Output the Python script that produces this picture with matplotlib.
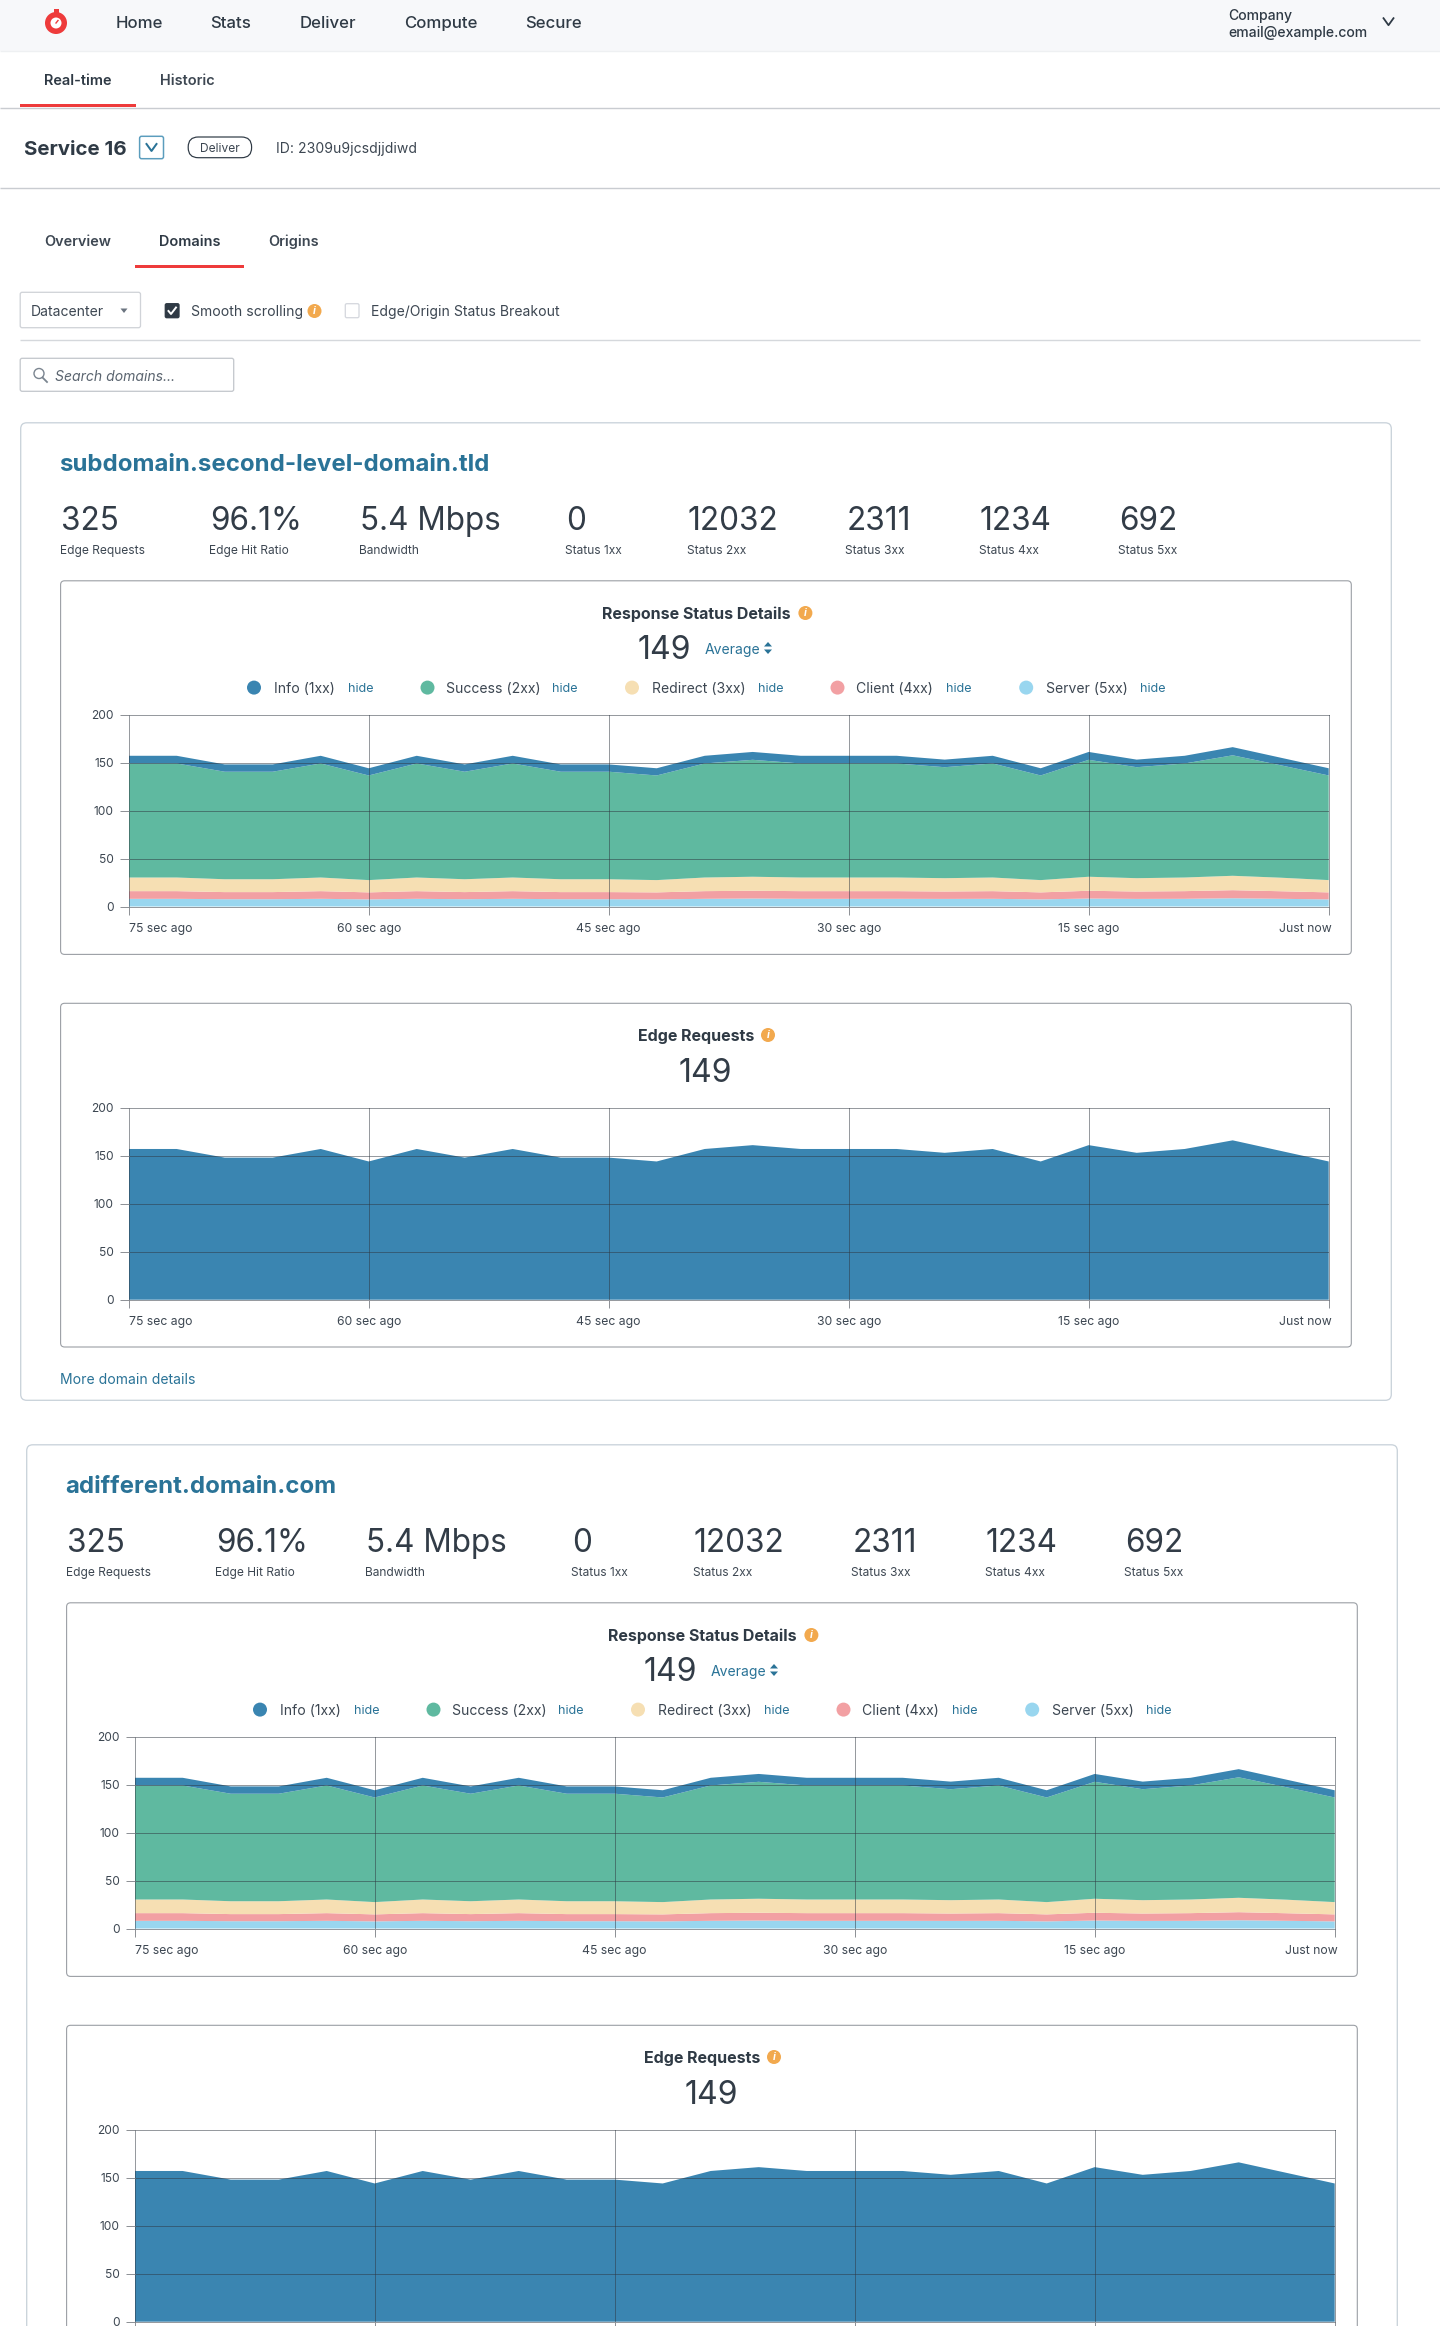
import matplotlib
matplotlib.use("Agg")
import matplotlib.pyplot as plt
from matplotlib.patches import Rectangle, Circle, FancyBboxPatch, Polygon
from matplotlib.transforms import ScaledTranslation

plt.rcParams['font.family'] = ['Inter', 'DejaVu Sans']

seconds = list(range(-75, 1, 3))
server = [8.0,8.0,7.6,7.6,8.0,7.4,8.0,7.6,8.0,7.6,7.6,7.4,8.0,8.3,8.0,8.0,8.0,7.9,8.0,7.4,8.3,7.9,8.0,8.6,8.0,7.4]
client = [8.0,8.0,7.4,7.4,8.0,7.3,8.0,7.4,8.0,7.4,7.4,7.3,8.0,8.1,8.0,8.0,8.0,7.7,8.0,7.3,8.1,7.7,8.0,8.4,7.9,7.3]
redirect = [14.2,14.2,13.4,13.4,14.2,12.8,14.2,13.4,14.2,13.4,13.4,12.8,14.2,14.6,14.2,14.2,14.2,13.9,14.2,12.8,14.6,13.9,14.2,15.0,14.1,12.8]
success = [118.8,118.8,112.0,112.0,118.8,109.0,118.8,112.0,118.8,112.0,112.0,109.0,118.8,121.8,118.8,118.8,118.8,115.6,118.8,109.0,121.8,115.6,118.8,125.5,117.1,109.0]
info = [8.0,8.0,7.6,7.6,8.0,7.5,8.0,7.6,8.0,7.6,7.6,7.5,8.0,8.2,8.0,8.0,8.0,7.9,8.0,7.5,8.2,7.9,8.0,8.5,7.9,7.5]
edge = [157,157,148,148,157,144,157,148,157,148,148,144,157,161,157,157,157,153,157,144,161,153,157,166,155,144]

xtick_vals = [-75, -60, -45, -30, -15, 0]
xtick_labels = ['75 sec ago', '60 sec ago', '45 sec ago', '30 sec ago', '15 sec ago', 'Just now']
ytick_vals = [0, 50, 100, 150, 200]

metric_values = ['325', '96.1%', '5.4 Mbps', '0', '12032', '2311', '1234', '692']
metric_labels = ['Edge Requests', 'Edge Hit Ratio', 'Bandwidth', 'Status 1xx',
                 'Status 2xx', 'Status 3xx', 'Status 4xx', 'Status 5xx']
legend_labels = ['Info (1xx)', 'Success (2xx)', 'Redirect (3xx)', 'Client (4xx)', 'Server (5xx)']
domains = ['subdomain.second-level-domain.tld', 'adifferent.domain.com']

BLUE, GREEN, CREAM, PINK, SKY = '#3A85B1', '#5FB9A0', '#F6DFB3', '#F2A0A3', '#99D6EF'
legend_colors = [BLUE, GREEN, CREAM, PINK, SKY]
INK = '#2F3A45'
NUM = '#323C47'
TEXT = '#3D4752'
LINK = '#2A7397'
RED = '#EE3B3B'
ORANGE = '#F2A94E'
W, H = 1440, 2326

fig = plt.figure(figsize=(W / 100, H / 100), dpi=100, facecolor='white')
bg = fig.add_axes([0, 0, 1, 1])
bg.set_xlim(0, W)
bg.set_ylim(H, 0)
bg.axis('off')


def fs(px):
    return px * 0.72


def label(x, y, s, size=14, color=TEXT, weight='normal', ha='left', style='normal'):
    bg.text(x, y, s, fontsize=fs(size), color=color, fontweight=weight, ha=ha,
            va='center_baseline', fontstyle=style)


def hline(y, x0=0, x1=W, color='#C9CCD1', lw=1.4):
    bg.plot([x0, x1], [y, y], color=color, lw=fs(lw), solid_capstyle='butt')


def box(x0, y0, x1, y1, ec, r=4, lw=1.3, fc='white', z=1):
    bg.add_patch(FancyBboxPatch((x0 + r, y0 + r), x1 - x0 - 2 * r, y1 - y0 - 2 * r,
                                boxstyle=f'round,pad={r},rounding_size={r}',
                                fc=fc, ec=ec, lw=fs(lw), zorder=z))


def info_icon(x, y):
    bg.add_patch(Circle((x, y), 7, fc=ORANGE, ec='none', zorder=3))
    bg.text(x, y, 'i', fontsize=fs(10.5), color='white', ha='center', va='center',
            fontstyle='italic', fontweight='bold', zorder=4)


def chevron(x, y, w, h, color, lw=1.8):
    bg.plot([x - w, x, x + w], [y - h, y + h, y - h], color=color, lw=fs(lw))


# Top navigation
bg.add_patch(Rectangle((0, 0), W, 51, fc='#F7F8FA', ec='none'))
hline(51, color='#EEF0F2')
bg.add_patch(Circle((56, 23), 11, fc=RED, ec='none'))
bg.add_patch(Rectangle((53.5, 9), 5, 4, fc=RED, ec='none'))
bg.add_patch(Circle((56, 23), 5.5, fc='white', ec='none'))
bg.plot([56, 58], [23, 20.5], color=RED, lw=1)
for x, s in zip([115.6, 210, 300, 404, 525], ['Home', 'Stats', 'Deliver', 'Compute', 'Secure']):
    label(x, 22.3, s, 16.8, INK, 'medium')
label(1228, 14.3, 'Company', 14, INK, 'medium')
label(1228, 31.3, 'email@example.com', 14, INK, 'medium')
chevron(1388.5, 21.7, 5, 3.5, INK)

# Page tabs
label(44, 79.7, 'Real-time', 14.5, INK, 'semibold')
label(160, 79.7, 'Historic', 14.5, TEXT, 'semibold')
bg.add_patch(Rectangle((20.2, 104), 115.8, 3.2, fc=RED, ec='none', zorder=3))
hline(107.5)
label(24, 147.7, 'Service 16', 20.5, INK, 'bold')
box(139.6, 136.3, 163.5, 158.7, '#5B9DBD', r=2, lw=1.5)
chevron(151.5, 147.5, 5, 3.5, LINK, lw=2)
box(188.2, 137, 251.6, 157.7, INK, r=10, lw=1.2)
label(220, 147.7, 'Deliver', 12, TEXT, ha='center')
label(276, 147.7, 'ID: 2309u9jcsdjjdiwd', 14, TEXT)
hline(187.5)

# Sub tabs
label(44.3, 240.7, 'Overview', 14.5, TEXT, 'semibold')
label(158.9, 240.7, 'Domains', 14.5, INK, 'semibold')
label(268.6, 240.7, 'Origins', 14.5, TEXT, 'semibold')
bg.add_patch(Rectangle((135, 265), 108.8, 3, fc=RED, ec='none'))

# Filters
box(20.2, 292.3, 140.5, 327.7, '#D0D3D8', r=2)
label(30.3, 310.5, 'Datacenter', 14, TEXT)
bg.add_patch(Polygon([(120.5, 308.5), (127.5, 308.5), (124, 313)], fc='#6B7480', ec='none'))
box(165.3, 303.7, 179, 317.7, '#2F3A45', r=1.5, fc='#2F3A45')
bg.plot([168.5, 171, 176], [311, 314, 307.5], color='white', lw=1.4, zorder=5)
label(191, 310.5, 'Smooth scrolling', 14, TEXT)
info_icon(314.5, 311)
box(345.3, 303.7, 359, 317.7, '#D5D8DE', r=1.5)
label(371, 310.5, 'Edge/Origin Status Breakout', 14, TEXT)
hline(340.3, 20, 1419.7, '#D5D8DC')
box(20.2, 358.3, 233.7, 391.3, '#C4C8CD', r=2)
bg.add_patch(Circle((39, 373.5), 5, fc='none', ec='#7B8590', lw=1))
bg.plot([42.5, 47], [377.5, 382], color='#7B8590', lw=1.3)
label(55, 375.5, 'Search domains...', 14, '#5B6570', style='italic')

metric_x = [60, 209.3, 359.4, 564.7, 686.8, 845.3, 978.9, 1118.4]
legend_marker_x = [254, 427.5, 632, 837.5, 1026.2]
legend_text_x = [273.6, 446.3, 652, 856.4, 1045.5]
legend_hide_x = [347.6, 552.3, 757.6, 946.4, 1139.6]


def style_axes(ax, show_xlabels=True):
    ax.set_xlim(-75, 0)
    ax.set_ylim(0, 200)
    ax.set_facecolor('none')
    ax.set_xticks(xtick_vals)
    ax.set_yticks(ytick_vals)
    ax.set_xticklabels(xtick_labels if show_xlabels else [])
    ax.tick_params(axis='x', length=6, width=0.72, color='#8F9297', pad=6,
                   labelsize=fs(12.2), labelcolor=TEXT)
    ax.tick_params(axis='y', length=6.6, width=0.72, color='#8F9297', pad=4,
                   labelsize=fs(12), labelcolor=TEXT)
    ax.set_axisbelow(False)
    ax.grid(True, color='#2F3640', alpha=0.5, lw=0.72)
    # the frame already draws the outermost grid positions
    for axis in (ax.xaxis, ax.yaxis):
        lines = axis.get_gridlines()
        lines[0].set_visible(False)
        lines[-1].set_visible(False)
    for s in ax.spines.values():
        s.set_color('#2F3640')
        s.set_alpha(0.5)
        s.set_linewidth(0.72)
    if show_xlabels:
        labels = ax.get_xticklabels()
        labels[0].set_ha('left')
        labels[-1].set_ha('right')
        labels[-1].set_transform(labels[-1].get_transform()
                                 + ScaledTranslation(3 / 100, 0, fig.dpi_scale_trans))


def chart_axes(x0, y_top, y_bot):
    return fig.add_axes([x0 / W, 1 - y_bot / H, 1200 / W, (y_bot - y_top) / H])


def card(dx, dy, domain, show_more):
    box(20.7 + dx, 422.8 + dy, 1391.3 + dx, 1400.3 + dy, '#C9D2DA', r=6)
    label(59.5 + dx, 462.4 + dy, domain, 24, LINK, 'bold')
    for x, v, l in zip(metric_x, metric_values, metric_labels):
        label(x + 1 + dx, 518 + dy, v, 31.5, NUM)
        label(x + dx, 549.8 + dy, l, 12, TEXT)

    # Response status panel
    box(60.6 + dx, 580.8 + dy, 1351.3 + dx, 954.4 + dy, '#9A9EA4', r=4, lw=1.1, z=2)
    label(696 + dx, 613 + dy, 'Response Status Details', 16, INK, 'bold', ha='center')
    info_icon(805.4 + dx, 613 + dy)
    label(664.5 + dx, 647.3 + dy, '149', 32, NUM, ha='center')
    label(704.8 + dx, 648.6 + dy, 'Average', 14, LINK)
    ax_ = 768 + dx
    ay_ = 648 + dy
    bg.add_patch(Polygon([(ax_ - 4, ay_ - 1.5), (ax_ + 4, ay_ - 1.5), (ax_, ay_ - 6)], fc=LINK, ec='none', zorder=3))
    bg.add_patch(Polygon([(ax_ - 4, ay_ + 1.5), (ax_ + 4, ay_ + 1.5), (ax_, ay_ + 6)], fc=LINK, ec='none', zorder=3))
    for mx, tx, hx, c, s in zip(legend_marker_x, legend_text_x, legend_hide_x, legend_colors, legend_labels):
        bg.add_patch(Circle((mx + dx, 687.6 + dy), 7, fc=c, ec='none', zorder=3))
        label(tx + dx, 687.5 + dy, s, 14, TEXT)
        label(hx + dx, 687.2 + dy, 'hide', 12.5, LINK)
    ax = chart_axes(128.7 + dx, 714.5 + dy, 906.5 + dy)
    ax.stackplot(seconds, server, client, redirect, success, info,
                 colors=[SKY, PINK, CREAM, GREEN, BLUE], lw=0)
    style_axes(ax)

    # Edge requests panel
    box(60.6 + dx, 1003.3 + dy, 1351.3 + dx, 1347 + dy, '#9A9EA4', r=4, lw=1.1, z=2)
    label(696.5 + dx, 1035 + dy, 'Edge Requests', 16, INK, 'bold', ha='center')
    info_icon(768 + dx, 1035 + dy)
    label(705.5 + dx, 1069.7 + dy, '149', 32, NUM, ha='center')
    ax2 = chart_axes(128.7 + dx, 1107.7 + dy, 1299.7 + dy)
    ax2.stackplot(seconds, edge, colors=[BLUE], lw=0)
    style_axes(ax2, show_xlabels=show_more)
    if show_more:
        label(60 + dx, 1379 + dy, 'More domain details', 14, LINK)


card(0, 0, domains[0], True)
card(6, 1022, domains[1], False)

fig.savefig('out.png', dpi=100)
